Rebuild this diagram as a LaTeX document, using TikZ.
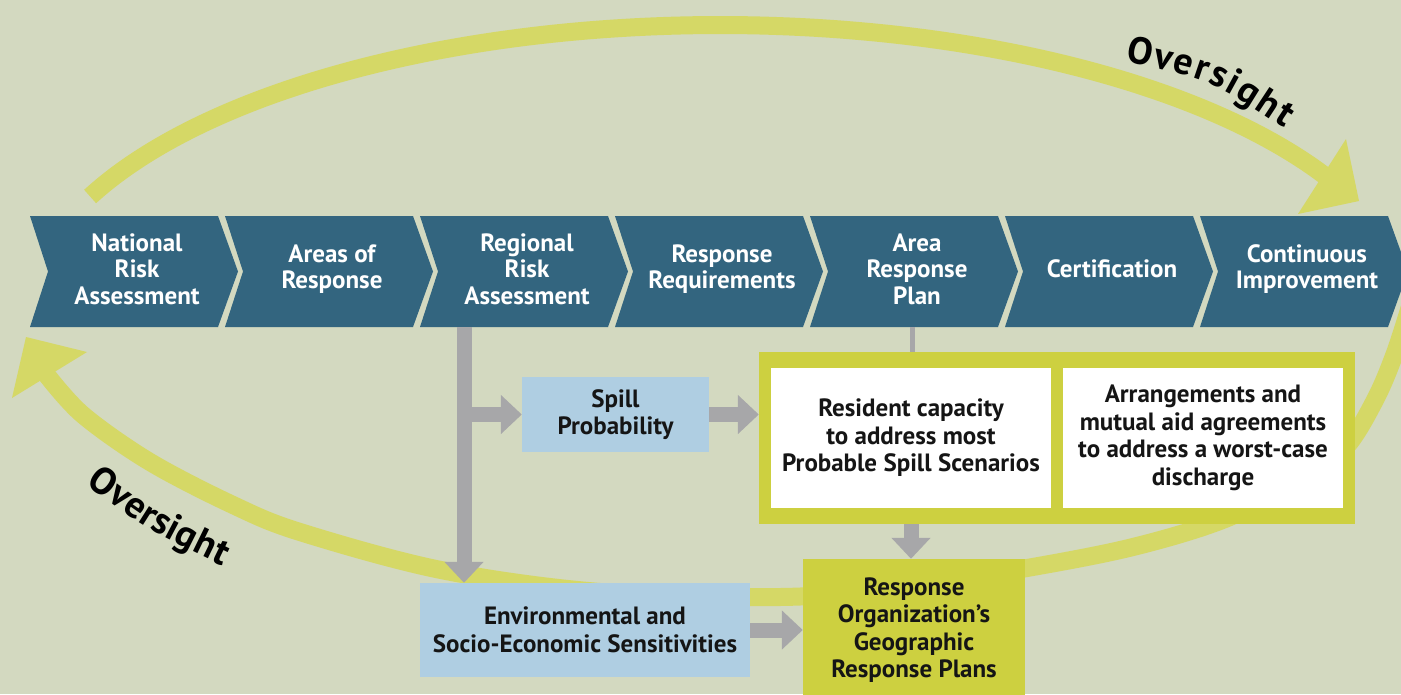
\documentclass[tikz,border=0pt]{standalone}
\usepackage{fontspec}
\setmainfont{PT Sans}
\usetikzlibrary{arrows.meta,calc,decorations.text}
\definecolor{bgc}{HTML}{D3D9C0}
\definecolor{chev}{HTML}{33657F}
\definecolor{arcy}{HTML}{D5D866}
\definecolor{boxy}{HTML}{CDD040}
\definecolor{lblue}{HTML}{AFCEE2}
\definecolor{grayc}{HTML}{A7A7A9}
\definecolor{txt}{HTML}{151515}
\begin{document}
\begin{tikzpicture}[x=1pt,y=-1pt,
  chevshape/.style={fill=chev},
  chevtext/.style={text=white,font=\bfseries\fontsize{25}{26.5}\selectfont,align=center,inner sep=0pt},
  boxtext/.style={text=txt,font=\bfseries\fontsize{25}{27.5}\selectfont,align=center,inner sep=0pt},
  bluebox/.style={boxtext,fill=lblue},
  whitebox/.style={boxtext,fill=white,minimum width=280pt,minimum height=140pt},
  arcline/.style={draw=arcy,line width=18pt},
  archead/.style={fill=arcy},
  bar/.style={draw=grayc,line width=15pt,-{Triangle[length=21pt,width=38pt]}},
  thinbar/.style={draw=grayc,line width=5pt},
  oversight/.style={decorate,decoration={text along path,text align=fit to path,
      text={|\bfseries\fontsize{38}{38}\selectfont|Oversight}}}
]
\useasboundingbox (0,0) rectangle (1401,694);
\clip (0,0) rectangle (1401,694);
\fill[bgc] (0,0) rectangle (1401,694);

% oversight arcs
\draw[arcline] plot[domain=-155:-29,samples=90,smooth] ({720+695*cos(\x)},{322+297*sin(\x)});
\fill[archead] (1359,201) -- (1346,139) -- (1298,214) -- cycle;
\draw[arcline] plot[smooth,tension=0.55] coordinates {(1412,300) (1395,353) (1375,400) (1345,448) (1300,480) (1225,519) (1133,547) (1027,568) (900,588) (780,597) (600,592) (441,570) (300,532) (233,505) (150,462) (83,415) (46,374)};
\fill[archead] (26,337) -- (87,352) -- (12,398) -- cycle;
\path[oversight] (1125,62) .. controls (1212,80) .. (1284,128);
\path[oversight] (86,484) .. controls (148,530) .. (222,566);

% chevrons
\foreach \i/\t in {1/{National\\Risk\\Assessment},2/{Areas of\\Response},3/{Regional\\Risk\\Assessment},4/{Response\\Requirements},5/{Area\\Response\\Plan},6/{Certification},7/{Continuous\\Improvement}}{
  \pgfmathsetmacro{\xo}{30+195*(\i-1)}
  \fill[chevshape] (\xo,216) -- ++(188,0) -- ++(20,55.5) -- ++(-20,55.5) -- ++(-188,0) -- ++(18,-55.5) -- cycle;
  \node[chevtext] (c\i) at (\xo+107,269) {\t};
}
\coordinate (c3b) at (464,327);
\coordinate (c5b) at (912,327);

% boxes
\node[bluebox,minimum width=187pt,minimum height=75pt] (spill) at (615.5,414.5) {Spill\\Probability};
\node[bluebox,minimum width=330pt,minimum height=94pt] (env) at (585,630) {Environmental and\\Socio-Economic Sensitivities};
\node[fill=boxy,minimum width=596pt,minimum height=172pt,inner sep=0pt] (big) at (1057,438) {};
\node[whitebox] (wl) at (911,438) {Resident capacity\\to address most\\Probable Spill Scenarios};
\node[whitebox] (wr) at (1203,438) {Arrangements and\\mutual aid agreements\\to address a worst-case\\discharge};
\node[boxtext,fill=boxy,minimum width=222pt,minimum height=142pt] (resp) at (914,630) {Response\\Organization’s\\Geographic\\Response Plans};

% connectors
\draw[bar] (c3b) -- (c3b |- env.north);
\draw[bar] (c3b |- spill.west) -- (spill.west);
\draw[bar] (spill.east) -- (spill.east -| big.west);
\draw[thinbar] (c5b) -- (c5b |- big.north);
\draw[bar] (wl.south |- big.south) -- (wl.south |- resp.north);
\draw[bar] (env.east) -- (env.east -| resp.west);
\end{tikzpicture}
\end{document}
